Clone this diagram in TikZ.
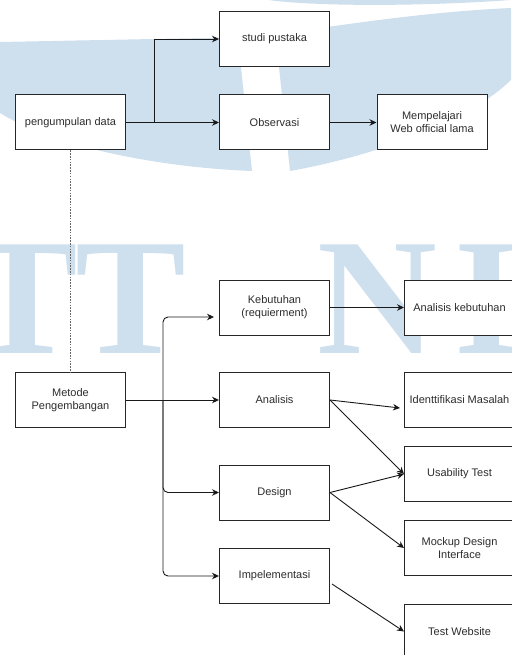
\documentclass[tikz,border=0pt]{standalone}
\usepackage{fontspec}
\setmainfont{Liberation Sans}
\newfontfamily\wmfont{Liberation Serif}
\usepackage{xcolor}
\usetikzlibrary{arrows.meta}
\definecolor{watermark}{RGB}{206,223,238}
\definecolor{teks}{RGB}{45,45,45}
\tikzset{
	kotak/.style={draw=black!85, fill=white, line width=1pt, minimum width=110pt, minimum height=55pt, align=center, inner sep=2pt, text=teks, font=\fontsize{11}{13}\selectfont},
	panah/.style={-{Stealth[length=7pt,width=6.5pt]}, line width=0.9pt, black!90},
	huruf/.style={anchor=base west, inner sep=0pt, text=watermark, font=\wmfont\bfseries\fontsize{166}{166}\selectfont}
}

\begin{document}
\begin{tikzpicture}[x=1pt,y=-1pt]
			\useasboundingbox (0,0) rectangle (511,655);
			% watermark
			\fill[watermark] (268,0) .. controls (320,7) and (430,6) .. (511,0) -- cycle;
			\fill[watermark] (0,42) -- (256,37) .. controls (330,27) and (420,12) .. (511,8) -- (511,80) .. controls (470,120) and (380,155) .. (290,171) -- (278,58) -- (240,58) -- (252,171) .. controls (170,168) and (60,150) .. (0,113) -- cycle;
			\node[huruf] (wm1) at (-33,353) {T};
			\node[huruf] (wm2) at (75,353) {T};
			\node[huruf] (wm3) at (317,353) {N};
			\node[huruf] (wm4) at (454,353) {I};

			% boxes
			\node[kotak] (pengumpulan) at (70.5,122.5) {pengumpulan data};
			\node[kotak] (studi) at (274.5,39) {studi pustaka};
			\node[kotak] (observasi) at (274.5,122.5) {Observasi};
			\node[kotak] (mempelajari) at (432,122.5) {Mempelajari\\Web official lama};
			\node[kotak] (metode) at (70.5,400) {Metode\\Pengembangan};
			\node[kotak] (kebutuhan) at (274.5,307.5) {Kebutuhan\\(requierment)};
			\node[kotak] (analisis) at (274.5,400) {Analisis};
			\node[kotak] (design) at (274.5,492.5) {Design};
			\node[kotak] (implementasi) at (274.5,576) {Impelementasi};
			\node[kotak] (anakeb) at (459.5,307.5) {Analisis kebutuhan};
			\node[kotak] (identifikasi) at (459.5,400) {Identtifikasi Masalah};
			\node[kotak] (usability) at (459.5,474) {Usability Test};
			\node[kotak] (mockup) at (459.5,548) {Mockup Design\\Interface};
			\node[kotak] (testweb) at (459.5,631.5) {Test Website};

			\coordinate (cabang) at (154,122.5);
			\coordinate (fork) at (163,400);
			\coordinate (kebmasuk) at (214,317);
			\coordinate (idmasuk) at (400,408);
			\coordinate (implkeluar) at (332,584);

			% pengumpulan data
			\draw[panah] (pengumpulan) -- (observasi);
			\draw[panah] (cabang) |- (studi);
			\draw[panah] (observasi) -- (mempelajari);
			\draw[black!60, line width=1.3pt, dash pattern=on 1.6pt off 1.2pt] (pengumpulan) -- (metode);

			% metode pengembangan
			\draw[panah] (metode) -- (analisis);
			\draw[panah, rounded corners=5pt] (fork) |- (kebmasuk);
			\draw[panah, rounded corners=5pt] (fork) |- (design);
			\draw[panah, rounded corners=5pt] (fork) |- (implementasi);
			\draw[panah] (kebutuhan) -- (anakeb);
			\draw[panah] (analisis.east) -- (idmasuk);
			\draw[panah] (analisis.east) -- (usability.west);
			\draw[panah] (design.east) -- (usability.west);
			\draw[panah] (design.east) -- (mockup.west);
			\draw[panah] (implkeluar) -- (testweb.west);
		\end{tikzpicture}
\end{document}
